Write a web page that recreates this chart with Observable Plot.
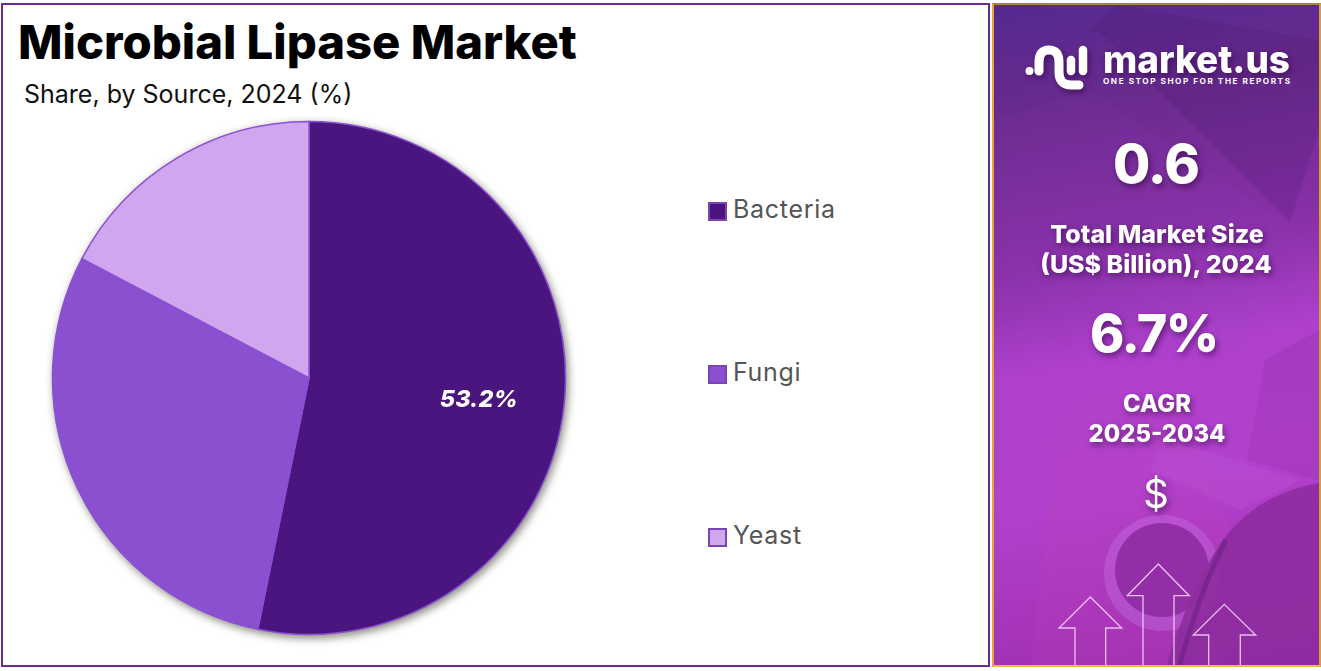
<!DOCTYPE html>
<html>
<head>
<meta charset="utf-8">
<script src="https://cdn.jsdelivr.net/npm/d3@7"></script>
<script src="https://cdn.jsdelivr.net/npm/@observablehq/plot@0.6"></script>
<style>
html,body{margin:0;padding:0;background:#fff;overflow:hidden;width:1321px;height:671px}
body{position:relative;font-family:Inter,"Open Sans",sans-serif}
#left{position:absolute;left:1px;top:3px;width:985px;height:660px;border:2px solid #6a2c91;background:#fff}
#right{position:absolute;left:992px;top:3px;width:325px;height:660px;border:2px solid;border-color:#a88a35 #d0a040 #f2b844 #e0a838;
  background:linear-gradient(170deg,#542a90 0%,#6a2a8e 16%,#8a30a8 38%,#ae40cc 52%,#b242ce 70%,#a836bc 86%,#9a2eac 100%);overflow:hidden}
#title{position:absolute;left:18px;top:14px;margin:0;font-size:47.2px;font-weight:800;color:#000;line-height:56px;white-space:nowrap}
#subtitle{position:absolute;left:24px;top:78px;font-size:25px;font-weight:400;color:#111;line-height:32px;white-space:nowrap}
#chart{position:absolute;left:39px;top:108px}
#legend .sw{position:absolute;left:708px;width:15px;height:15px;border:2px solid #7a44b8}
#legend .lb{position:absolute;left:733px;font-size:25px;letter-spacing:.7px;line-height:30px;color:#555;white-space:nowrap}
#overlay{position:absolute;left:0;top:0;pointer-events:none}
#overlay text{fill:#fff;text-anchor:middle;font-family:Inter,sans-serif}
.shadow{filter:drop-shadow(2px 3px 3px rgba(40,0,60,.55))}
</style>
</head>
<body>
<div id="left"></div>
<div id="right"></div>
<h1 id="title">Microbial Lipase Market</h1>
<div id="subtitle">Share, by Source, 2024 (%)</div>
<div id="chart"></div>
<div id="legend"></div>
<svg id="overlay" width="1321" height="671" viewBox="0 0 1321 671">
  <defs><clipPath id="panel"><rect x="994" y="5" width="325" height="660"/></clipPath></defs>
  <g clip-path="url(#panel)">
    <polygon points="1088,32 1118,5 1319,40 1319,130 1290,222 1100,32" fill="#4a1a70" opacity=".22"/>
    <polygon points="994,120 1090,90 1290,225 1240,350 994,300" fill="#9a50c8" opacity=".08"/>
    <polygon points="1045,440 1090,390 1180,400 1230,530 1170,671 1030,671 1053,470" fill="#c040b8" opacity=".2"/>
    <polygon points="1247,460 1265,360 1319,330 1319,480" fill="#8a2a9a" opacity=".22"/>
    <polygon points="1150,470 1165,440 1300,480 1240,510" fill="#d070e0" opacity=".14"/>
    <circle cx="1162" cy="573" r="58" fill="#c878e8" opacity=".35"/>
    <circle cx="1162" cy="570" r="47" fill="#932ea6"/>
    <path d="M1319 483 Q1252 495 1218 547 Q1185 600 1165 671 L1319 671 Z" fill="#8e2ca0" opacity=".92"/>
    <path d="M1226 540 Q1200 590 1178 671" fill="none" stroke="#5a1a78" stroke-width="5" opacity=".4"/>
    <g fill="none" stroke="#f0c8f4" stroke-width="1.3" opacity=".95">
      <path d="M1075 666V628H1059L1090.3 597L1121.7 628H1105.7V666"/>
      <path d="M1143 666V595.7H1127.3L1158.3 564L1189.3 595.7H1174V666"/>
      <path d="M1208.7 666V635H1193.3L1224.3 604.3L1255.7 635H1240.3V666"/>
    </g>
    <g class="shadow">
      <circle cx="1029.5" cy="71" r="4" fill="#fff"/>
      <path d="M1039 71V62Q1039 50 1049 50Q1059 50 1059 62V72Q1059 85 1071 85H1079" fill="none" stroke="#fff" stroke-width="9" stroke-linecap="round"/>
      <path d="M1071 60V71" fill="none" stroke="#fff" stroke-width="8.5" stroke-linecap="round"/>
      <path d="M1083 50V71" fill="none" stroke="#fff" stroke-width="8.5" stroke-linecap="round"/>
      <text x="1196.5" y="73" font-size="38" font-weight="800" textLength="187" lengthAdjust="spacingAndGlyphs">market.us</text>
    </g>
    <text x="1196.5" y="84" font-size="8.2" font-weight="700" textLength="187" lengthAdjust="spacing">ONE STOP SHOP FOR THE REPORTS</text>
    <g class="shadow">
      <text x="1156" y="183" font-size="54" font-weight="800" letter-spacing="-1">0.6</text>
      <text x="1157" y="243" font-size="25" font-weight="800">Total Market Size</text>
      <text x="1156" y="273" font-size="25" font-weight="800">(US$ Billion), 2024</text>
      <text x="1154" y="352" font-size="52" font-weight="800" letter-spacing="-1.5">6.7%</text>
      <text x="1157" y="412" font-size="23.8" font-weight="800">CAGR</text>
      <text x="1157" y="442" font-size="23.8" font-weight="800">2025-2034</text>
      <text x="1156" y="508" font-size="40" font-weight="400">$</text>
    </g>
  </g>
</svg>
<script>
// Data
const sources = ["Bacteria", "Fungi", "Yeast"];
const shares = [53.2, 29.5, 17.3];
const sliceLabels = ["53.2%", "", ""];
const sliceColors = ["#4b1580", "#8a50d0", "#d0a6ee"];
const legendTops = [202, 365, 528];

const rows = sources.map((source, i) => ({source, share: shares[i], label: sliceLabels[i]}));
const size = 540, radius = 256.5;

// Stacked bars on an angular x scale, rendered as arcs: positions come from Plot's stack and scale.
const chart = Plot.plot({
  width: size,
  height: size,
  margin: 0,
  style: {background: "transparent", overflow: "visible"},
  x: {domain: [0, 100], range: [0, 2 * Math.PI], axis: null},
  color: {domain: sources, range: sliceColors},
  marks: [
    Plot.barX(rows, Plot.stackX({
      x: "share",
      fill: "source",
      render(index, scales, values, dimensions) {
        const g = d3.create("svg:g")
          .attr("transform", `translate(${dimensions.width / 2},${dimensions.height / 2})`)
          .style("filter", "drop-shadow(2px 3px 4px rgba(60,60,40,.6))");
        const arc = d3.arc().innerRadius(0).outerRadius(radius);
        for (const i of index) {
          g.append("path")
            .attr("d", arc({startAngle: values.x1[i], endAngle: values.x2[i]}))
            .attr("fill", values.fill ? values.fill[i] : scales.color(rows[i].source))
            .attr("stroke", "#8a50d4")
            .attr("stroke-width", 1.5);
        }
        for (const i of index) {
          if (!rows[i].label) continue;
          const mid = (values.x1[i] + values.x2[i]) / 2;
          const r = radius * 0.665;
          g.append("text")
            .attr("x", Math.sin(mid) * r)
            .attr("y", -Math.cos(mid) * r + 4)
            .attr("text-anchor", "middle")
            .attr("dy", "0.35em")
            .attr("fill", "#fff")
            .attr("font-family", "Inter, sans-serif")
            .attr("font-size", 23.5)
            .attr("font-weight", 800)
            .attr("font-style", "italic")
            .text(rows[i].label);
        }
        return g.node();
      }
    }))
  ]
});
document.getElementById("chart").append(chart);

// Legend
const legend = d3.select("#legend");
sources.forEach((s, i) => {
  legend.append("div").attr("class", "sw")
    .style("top", legendTops[i] + "px").style("background", sliceColors[i]);
  legend.append("div").attr("class", "lb")
    .style("top", legendTops[i] - 8 + "px").text(s);
});
</script>
</body>
</html>
